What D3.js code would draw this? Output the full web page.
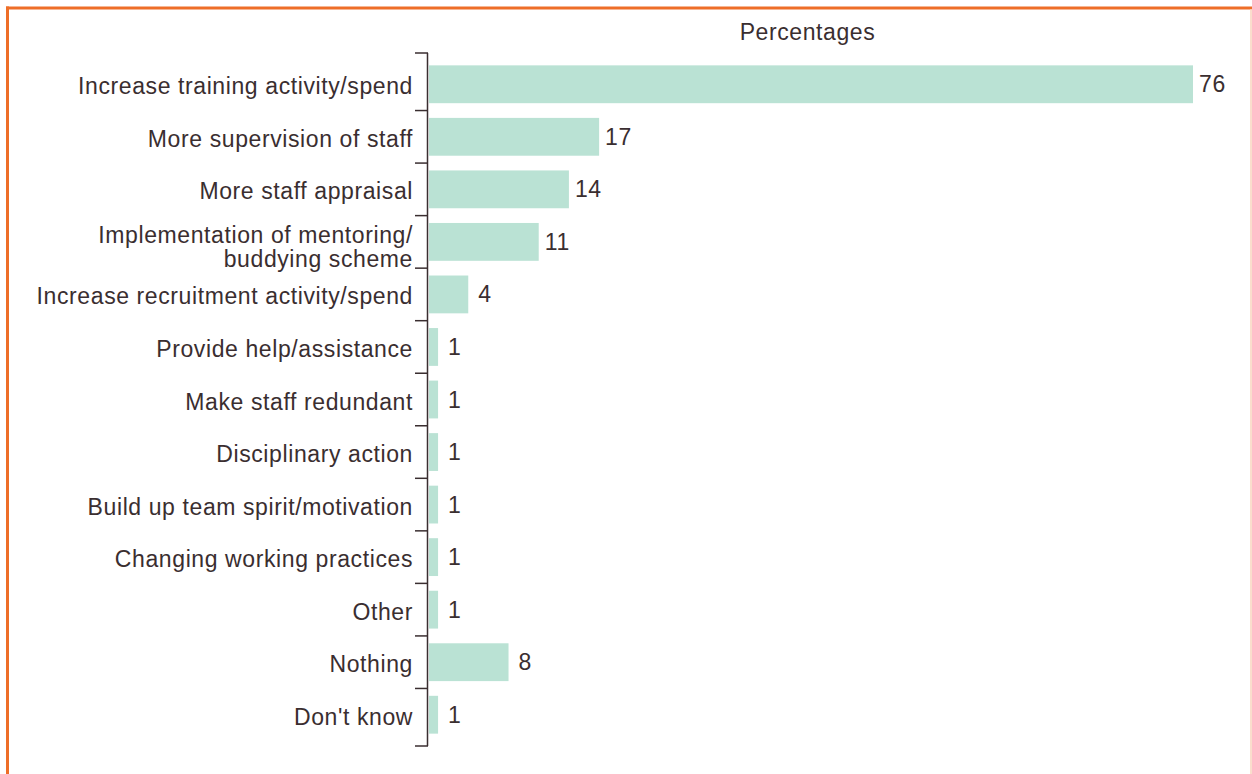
<!DOCTYPE html>
<html>
<head>
<meta charset="utf-8">
<script src="https://cdn.jsdelivr.net/npm/d3@7"></script>
<style>
  html, body { margin: 0; padding: 0; background: #fff; }
  svg { display: block; }
  text { font-family: "Liberation Sans", Arial, Helvetica, sans-serif; fill: #3a2e30; letter-spacing: 0.6px; }
</style>
</head>
<body>
<svg id="chart" width="1252" height="774"></svg>
<script>
// Actions taken, share of respondents (%)
const categories = [
  "Increase training activity/spend",
  "More supervision of staff",
  "More staff appraisal",
  "Implementation of mentoring/\nbuddying scheme",
  "Increase recruitment activity/spend",
  "Provide help/assistance",
  "Make staff redundant",
  "Disciplinary action",
  "Build up team spirit/motivation",
  "Changing working practices",
  "Other",
  "Nothing",
  "Don't know"
];
const values = [76, 17, 14, 11, 4, 1, 1, 1, 1, 1, 1, 8, 1];
const axisTitle = "Percentages";

const W = 1252, H = 774;
const margin = { left: 428, right: 59, top: 58, bottom: 33 };
const fontSize = 23;
const svg = d3.select("#chart");

// Frame
const frame = svg.append("g");
frame.append("line").attr("x1", 6).attr("x2", W).attr("y1", 8).attr("y2", 8)
  .attr("stroke", "#ee6e28").attr("stroke-width", 3);
frame.append("line").attr("x1", 7.5).attr("x2", 7.5).attr("y1", 6.5).attr("y2", H)
  .attr("stroke", "#ee6e28").attr("stroke-width", 3);
frame.append("line").attr("x1", W - 1).attr("x2", W - 1).attr("y1", 9).attr("y2", H)
  .attr("stroke", "#f8d3bd").attr("stroke-width", 1.5);

const x = d3.scaleLinear()
  .domain([0, 76])
  .range([margin.left, W - margin.right]);

const y = d3.scaleBand()
  .domain(categories)
  .range([margin.top, H - margin.bottom])
  .paddingInner(0.28)
  .paddingOuter(0.14);

const data = categories.map((c, i) => ({ cat: c, val: values[i] }));

// Bars
svg.append("g").selectAll("rect").data(data).join("rect")
  .attr("x", x(0) + 1)
  .attr("y", d => y(d.cat))
  .attr("width", d => x(d.val) - x(0) - 1)
  .attr("height", y.bandwidth())
  .attr("fill", "#bae2d4");

// Value labels
svg.append("g").selectAll("text").data(data).join("text")
  .attr("x", d => x(d.val) + (d.val < 10 ? 10 : 6))
  .attr("y", d => y(d.cat) + y.bandwidth() / 2)
  .attr("dy", "0.35em")
  .attr("font-size", fontSize)
  .text(d => d.val);

// Category axis: line plus ticks at band boundaries
const axisColor = "#3a2e30";
const ext = 5;
const y0 = y.range()[0] - ext, y1 = y.range()[1] + ext;
const ax = svg.append("g");
ax.append("line").attr("x1", x(0) - 0.5).attr("x2", x(0) - 0.5)
  .attr("y1", y0).attr("y2", y1)
  .attr("stroke", axisColor).attr("stroke-width", 1.5);
const gap = y.step() * y.paddingInner() / 2;
const tickYs = [y0]
  .concat(categories.slice(1).map(c => y(c) - gap))
  .concat([y1]);
ax.selectAll("line.tick").data(tickYs).join("line")
  .attr("class", "tick")
  .attr("x1", x(0) - 13).attr("x2", x(0))
  .attr("y1", d => d).attr("y2", d => d)
  .attr("stroke", axisColor).attr("stroke-width", 1.5);

// Category labels (multi-line where needed)
const labels = svg.append("g").selectAll("text").data(data).join("text")
  .attr("text-anchor", "end")
  .attr("font-size", fontSize)
  .attr("y", d => y(d.cat) + y.bandwidth() / 2);
labels.each(function(d) {
  const lines = d.cat.split("\n");
  const lh = 24;
  const shift = lines.length > 1 ? 5 : 2;
  const t = d3.select(this);
  lines.forEach((ln, i) => {
    t.append("tspan")
      .attr("x", x(0) - 15)
      .attr("y", y(d.cat) + y.bandwidth() / 2 + shift + (i - (lines.length - 1) / 2) * lh)
      .attr("dy", "0.35em")
      .text(ln);
  });
});

// Axis title
svg.append("text")
  .attr("x", (x(0) + x(76)) / 2 - 3)
  .attr("y", 32)
  .attr("dy", "0.35em")
  .attr("text-anchor", "middle")
  .attr("font-size", fontSize)
  .text(axisTitle);
</script>
</body>
</html>
